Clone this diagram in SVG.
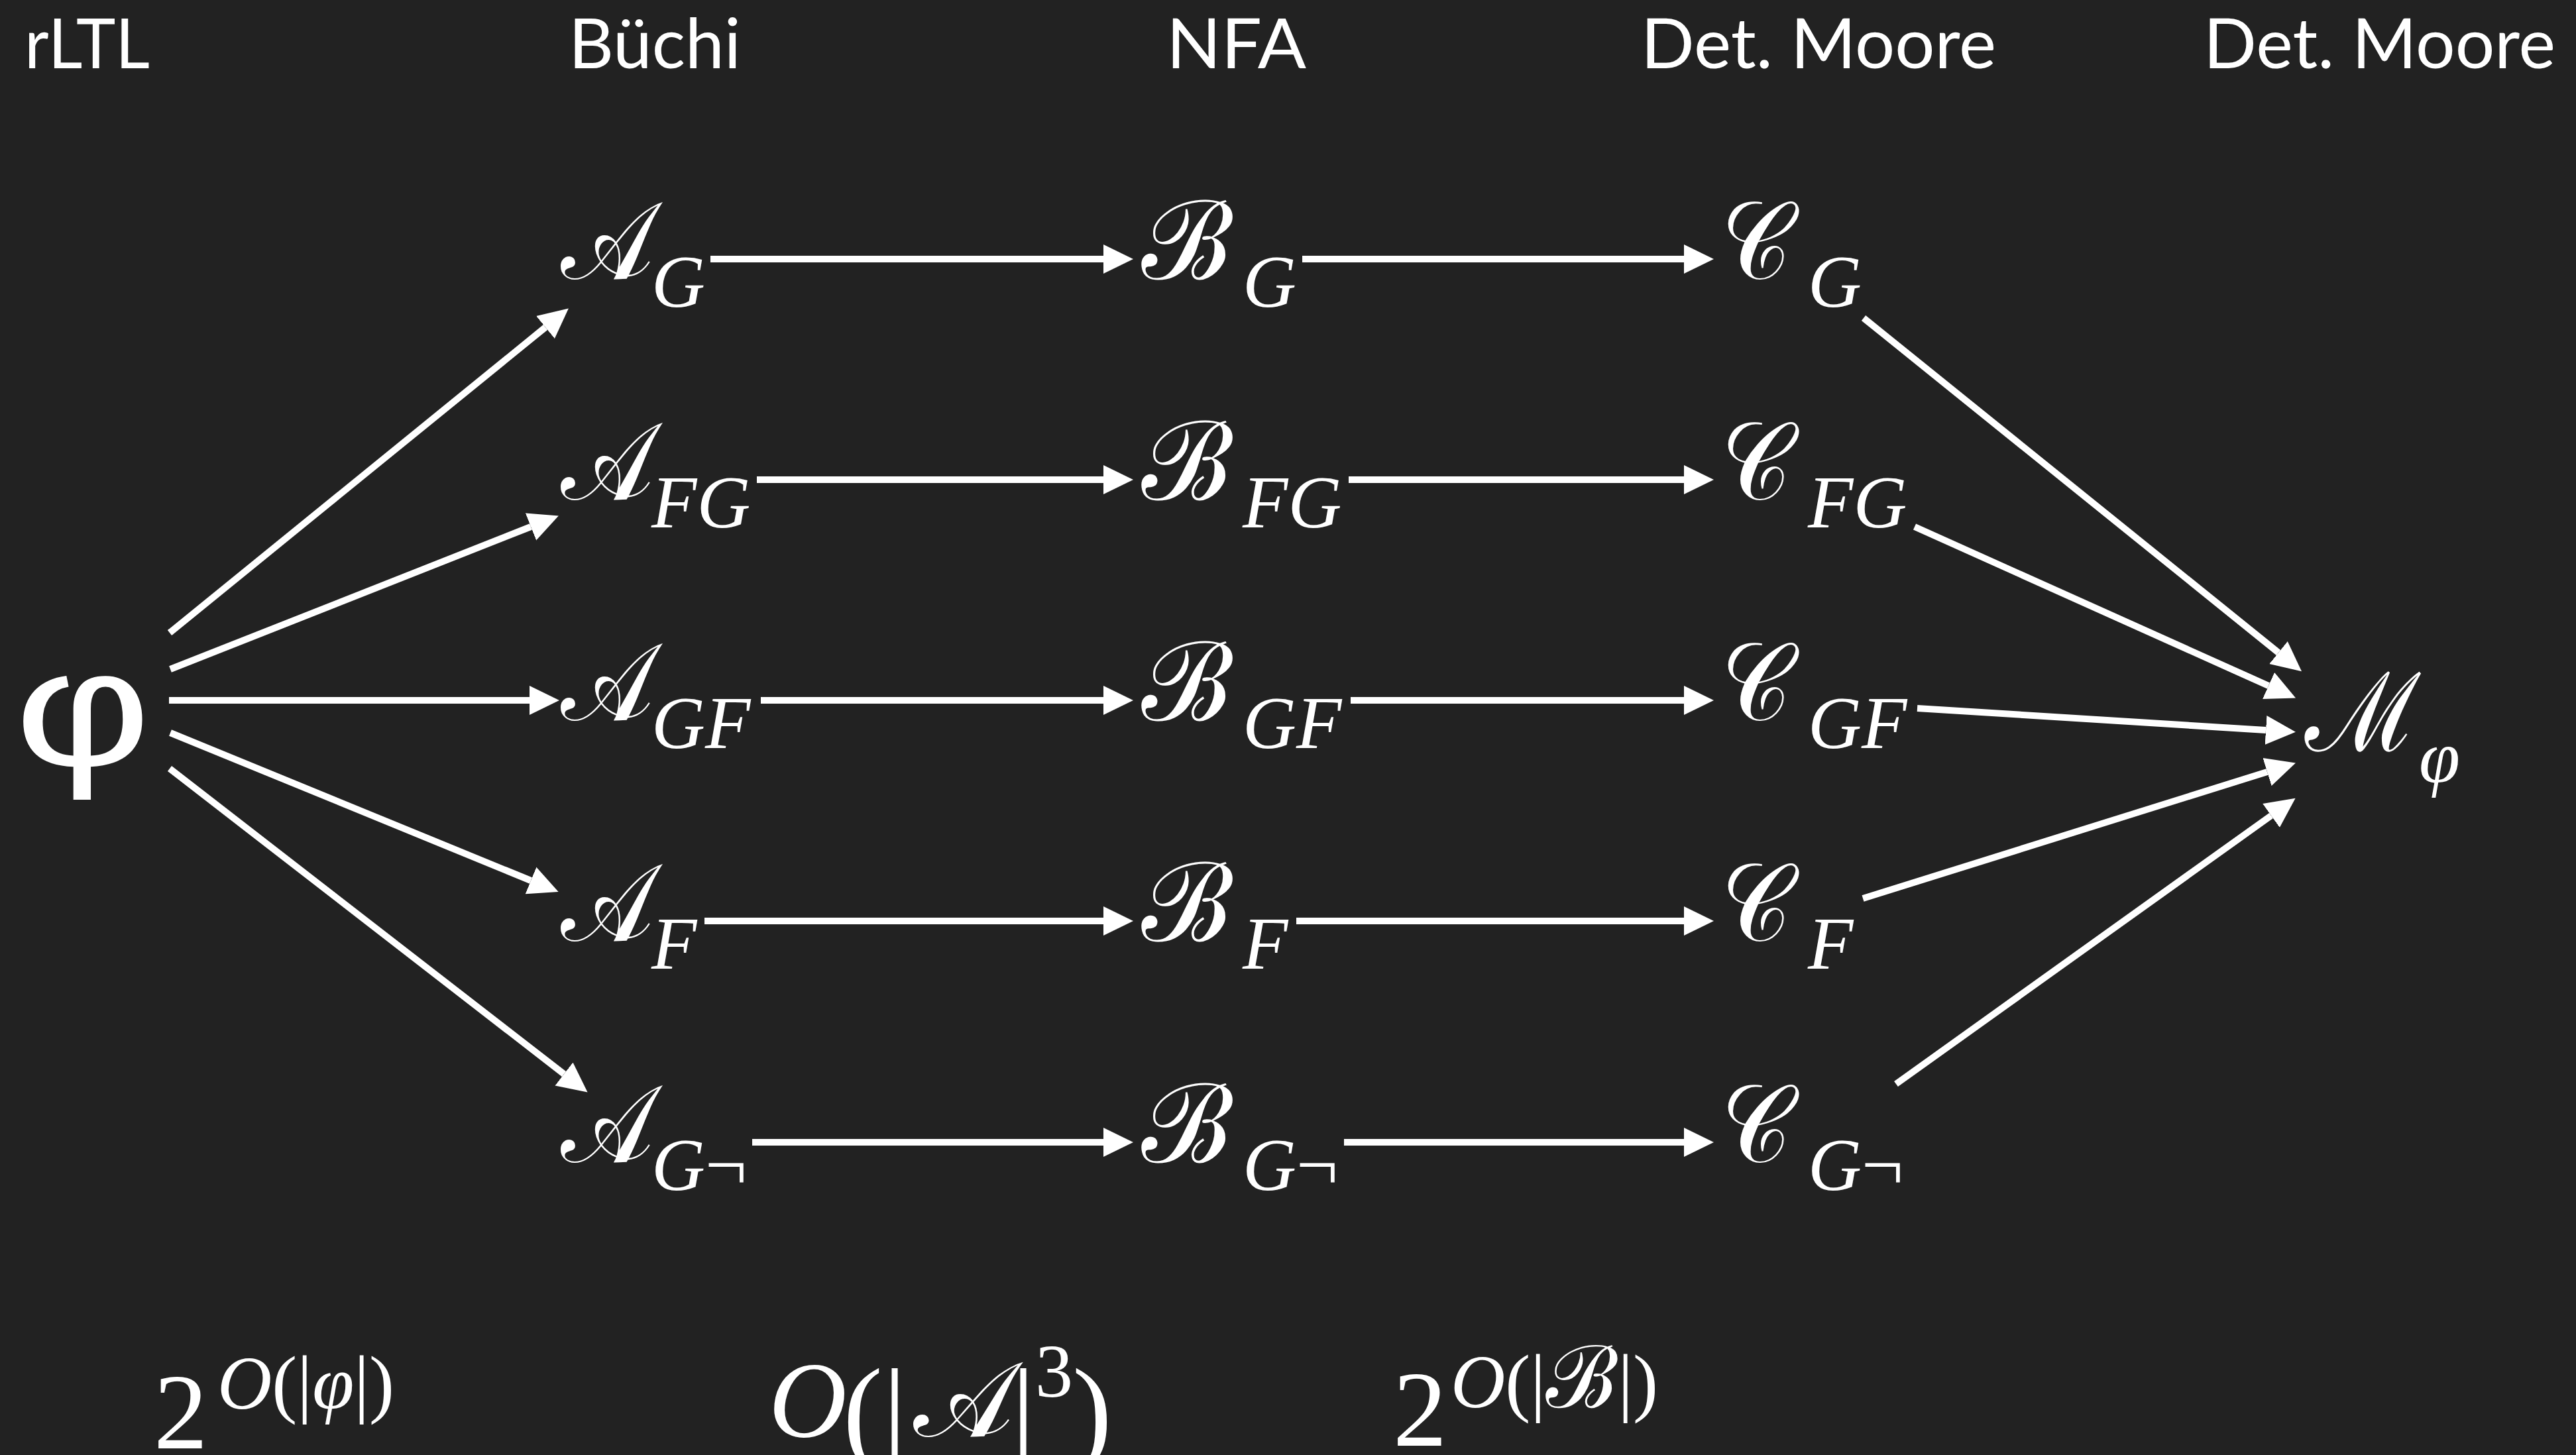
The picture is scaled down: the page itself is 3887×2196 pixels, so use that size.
<svg xmlns="http://www.w3.org/2000/svg" width="3887" height="2196" viewBox="0 0 3887 2196">
<defs>
<style>
.hdr{font-family:Lato,"Noto Sans","Liberation Sans",sans-serif;font-size:105px;fill:#fff}
.scr{font-family:"Liberation Serif",serif;font-size:165px;fill:#fff}
.sub{font-family:"Liberation Serif","DejaVu Serif",serif;font-size:112px;font-style:italic;fill:#fff}
.up{font-style:normal}
.big{font-family:"Liberation Serif","DejaVu Serif",serif;fill:#fff}
.ln{stroke:#fff;stroke-width:10;fill:none}
</style>
<marker id="ah" markerUnits="userSpaceOnUse" markerWidth="46" markerHeight="46" refX="0" refY="22" orient="auto" viewBox="0 0 46 44">
<path d="M0,0 L45,22 L0,44 z" fill="#fff"/>
</marker>
</defs>
<rect width="3887" height="2196" fill="#222222"/>

<g id="headers">
<text class="hdr" x="37" y="103" textLength="189" lengthAdjust="spacingAndGlyphs">rLTL</text>
<text class="hdr" x="858" y="103" textLength="260" lengthAdjust="spacingAndGlyphs">Büchi</text>
<text class="hdr" x="1760" y="103" textLength="211" lengthAdjust="spacingAndGlyphs">NFA</text>
<text class="hdr" x="2476" y="103" textLength="536" lengthAdjust="spacingAndGlyphs">Det. Moore</text>
<text class="hdr" x="3325" y="103" textLength="531" lengthAdjust="spacingAndGlyphs">Det. Moore</text>
</g>

<g id="connectors">
<line class="ln" x1="255" y1="1057" x2="799" y2="1057" marker-end="url(#ah)"/>
<line class="ln" x1="256" y1="955" x2="823" y2="494" marker-end="url(#ah)"/>
<line class="ln" x1="257" y1="1010" x2="801" y2="795" marker-end="url(#ah)"/>
<line class="ln" x1="257" y1="1106" x2="801" y2="1329" marker-end="url(#ah)"/>
<line class="ln" x1="256" y1="1160" x2="851" y2="1621" marker-end="url(#ah)"/>

<line class="ln" x1="1072" y1="391" x2="1665" y2="391" marker-end="url(#ah)"/>
<line class="ln" x1="1142" y1="724" x2="1665" y2="724" marker-end="url(#ah)"/>
<line class="ln" x1="1148" y1="1057" x2="1665" y2="1057" marker-end="url(#ah)"/>
<line class="ln" x1="1063" y1="1390" x2="1665" y2="1390" marker-end="url(#ah)"/>
<line class="ln" x1="1135" y1="1724" x2="1665" y2="1724" marker-end="url(#ah)"/>

<line class="ln" x1="1965" y1="391" x2="2541" y2="391" marker-end="url(#ah)"/>
<line class="ln" x1="2035" y1="724" x2="2541" y2="724" marker-end="url(#ah)"/>
<line class="ln" x1="2038" y1="1057" x2="2541" y2="1057" marker-end="url(#ah)"/>
<line class="ln" x1="1956" y1="1390" x2="2541" y2="1390" marker-end="url(#ah)"/>
<line class="ln" x1="2028" y1="1724" x2="2541" y2="1724" marker-end="url(#ah)"/>

<line class="ln" x1="2812" y1="480" x2="3438" y2="985" marker-end="url(#ah)"/>
<line class="ln" x1="2889" y1="795" x2="3423" y2="1035" marker-end="url(#ah)"/>
<line class="ln" x1="2893" y1="1069" x2="3419" y2="1102" marker-end="url(#ah)"/>
<line class="ln" x1="2811" y1="1356" x2="3421" y2="1165" marker-end="url(#ah)"/>
<line class="ln" x1="2861" y1="1636" x2="3427" y2="1231" marker-end="url(#ah)"/>
</g>

<g id="phi"><text transform="translate(22,1155) scale(1.27,1)" font-family="'Liberation Sans',sans-serif" font-size="250" fill="#fff">φ</text></g>

<g id="A_G"><text class="scr" transform="translate(846,421) scale(0.9,1)">𝒜</text><text class="sub" x="983" y="463">G</text></g>
<g id="A_FG"><text class="scr" transform="translate(846,754) scale(0.9,1)">𝒜</text><text class="sub" x="983" y="796">FG</text></g>
<g id="A_GF"><text class="scr" transform="translate(846,1087) scale(0.9,1)">𝒜</text><text class="sub" x="983" y="1129">GF</text></g>
<g id="A_F"><text class="scr" transform="translate(846,1420) scale(0.9,1)">𝒜</text><text class="sub" x="983" y="1462">F</text></g>
<g id="A_Gneg"><text class="scr" transform="translate(846,1754) scale(0.9,1)">𝒜</text><text class="sub" x="983" y="1796">G<tspan class="up">¬</tspan></text></g>

<g id="B_G"><text class="scr" x="1722" y="421">ℬ</text><text class="sub" x="1875" y="463">G</text></g>
<g id="B_FG"><text class="scr" x="1722" y="754">ℬ</text><text class="sub" x="1875" y="796">FG</text></g>
<g id="B_GF"><text class="scr" x="1722" y="1087">ℬ</text><text class="sub" x="1875" y="1129">GF</text></g>
<g id="B_F"><text class="scr" x="1722" y="1420">ℬ</text><text class="sub" x="1875" y="1462">F</text></g>
<g id="B_Gneg"><text class="scr" x="1722" y="1754">ℬ</text><text class="sub" x="1875" y="1796">G<tspan class="up">¬</tspan></text></g>

<g id="C_G"><text class="scr" transform="translate(2597,421) scale(0.88,1)">𝒞</text><text class="sub" x="2728" y="463">G</text></g>
<g id="C_FG"><text class="scr" transform="translate(2597,754) scale(0.88,1)">𝒞</text><text class="sub" x="2728" y="796">FG</text></g>
<g id="C_GF"><text class="scr" transform="translate(2597,1087) scale(0.88,1)">𝒞</text><text class="sub" x="2728" y="1129">GF</text></g>
<g id="C_F"><text class="scr" transform="translate(2597,1420) scale(0.88,1)">𝒞</text><text class="sub" x="2728" y="1462">F</text></g>
<g id="C_Gneg"><text class="scr" transform="translate(2597,1754) scale(0.88,1)">𝒞</text><text class="sub" x="2728" y="1796">G<tspan class="up">¬</tspan></text></g>

<g id="M_phi"><text class="scr" transform="translate(3478,1133) scale(0.92,1)">ℳ</text><text class="sub" x="3650" y="1180">φ</text></g>

<g id="cost1">
<text class="big" x="232" y="2186" font-size="163">2</text>
<text class="big" x="328" y="2126" font-size="114"><tspan font-style="italic">O</tspan>(|<tspan font-style="italic">φ</tspan>|)</text>
</g>
<g id="cost2">
<text class="big" x="1160" y="2168" font-size="163" font-style="italic">O</text>
<text class="big" x="1272" y="2190" font-size="180">(|</text>
<text class="scr" x="1378" y="2168" style="font-size:160px">𝒜</text>
<text class="big" x="1526" y="2190" font-size="180">|</text>
<text class="big" x="1562" y="2108" font-size="114">3</text>
<text class="big" x="1618" y="2190" font-size="180">)</text>
</g>
<g id="cost3">
<text class="big" x="2102" y="2182" font-size="163">2</text>
<text class="big" x="2189" y="2124" font-size="114"><tspan font-style="italic">O</tspan>(|<tspan class="scr" style="font-size:130px">ℬ</tspan>|)</text>
</g>
</svg>
